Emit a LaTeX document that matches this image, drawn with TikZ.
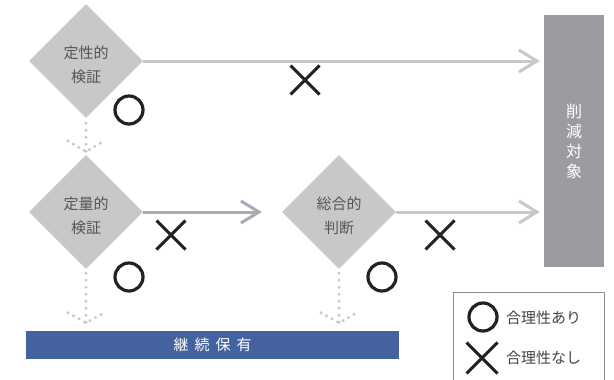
\documentclass[tikz,border=0pt]{standalone}
\usepackage{fontspec}
\newfontfamily\cjk{Noto Sans CJK JP}
\usetikzlibrary{shapes.geometric,shapes.misc,arrows.meta,calc}
\definecolor{dia}{HTML}{C8C8C8}
\definecolor{diatext}{HTML}{555555}
\definecolor{lgray}{HTML}{C8C8CA}
\definecolor{mgray}{HTML}{A9A9B8}
\definecolor{boxgray}{HTML}{9B9CA0}
\definecolor{bar}{HTML}{4462A0}
\definecolor{mark}{HTML}{222222}
\definecolor{legline}{HTML}{8A8D95}
\begin{document}
\begin{tikzpicture}[x=1pt,y=-1pt,
  dianode/.style={shape=diamond, aspect=1, fill=dia, minimum width=114pt, minimum height=114pt, inner sep=0pt},
  diatxt/.style={align=center, font=\cjk\fontsize{15pt}{24pt}\selectfont, text=diatext, inner sep=0pt, yshift=-4pt},
  arrowline/.style={line width=3pt, -{Straight Barb[length=18pt,width=22pt]}},
  dotline/.style={draw=lgray, line width=3.4pt, line cap=round, dash pattern=on 0pt off 7pt},
  dotchev/.style={draw=lgray, line width=3.4pt, line cap=round, dash pattern=on 0pt off 6.3pt},
  okmark/.style={draw=mark, circle, line width=3.2pt, minimum size=28pt, inner sep=0pt},
  ngmark/.style={draw=mark, cross out, line width=3pt, minimum size=26pt, inner sep=0pt},
  legtext/.style={font=\cjk\fontsize{15pt}{18pt}\selectfont, text=mark!85, anchor=west, inner sep=0pt}
]
\useasboundingbox (0,0) rectangle (614,380);
\clip (0,0) rectangle (614,380);

% decision diamonds
\node[dianode, label={[diatxt]center:定性的\\検証}] (d1) at (86,61) {};
\node[dianode, label={[diatxt]center:定量的\\検証}] (d2) at (86,212) {};
\node[dianode, label={[diatxt]center:総合的\\判断}] (d3) at (339,212) {};

% target boxes
\node[fill=boxgray, minimum width=60pt, minimum height=252pt, inner sep=0pt, text=white,
  align=center, font=\cjk\fontsize{16pt}{20pt}\selectfont] (cut) at (574,141) {削\\減\\対\\象};
\node[fill=bar, minimum width=373pt, minimum height=28pt, inner sep=0pt, text=white,
  font=\cjk\fontsize{15pt}{18pt}\selectfont] (keep) at (212.5,345) {継\hspace{6pt}続\hspace{6pt}保\hspace{6pt}有};

% solid arrows
\draw[arrowline, draw=lgray, shorten >=4pt] (d1.east) -- (cut.west |- d1.east);
\draw[arrowline, draw=mgray, shorten >=20pt] (d2.east) -- (d3.west);
\draw[arrowline, draw=lgray, shorten >=4pt] (d3.east) -- (cut.west |- d3.east);

% dotted arrows
\coordinate (t1) at ($(d2.north)+(0,-3)$);
\draw[dotline] ($(d1.south)+(0,5)$) -- (t1);
\draw[dotchev] ($(t1)+(-18,-11)$) -- (t1) -- ($(t1)+(18,-11)$);
\coordinate (t2) at ($(keep.north -| d2.south)+(0,-8)$);
\draw[dotline] ($(d2.south)+(0,4)$) -- (t2);
\draw[dotchev] ($(t2)+(-18,-10)$) -- (t2) -- ($(t2)+(18,-10)$);
\coordinate (t3) at ($(keep.north -| d3.south)+(0,-8)$);
\draw[dotline] ($(d3.south)+(0,4)$) -- (t3);
\draw[dotchev] ($(t3)+(-18,-10)$) -- (t3) -- ($(t3)+(18,-10)$);

% marks
\node[okmark] (o1) at (129,110) {};
\node[ngmark] (x1) at (305,80) {};
\node[okmark] (o2) at (129,277) {};
\node[ngmark] (x2) at (171,235) {};
\node[okmark] (o3) at (382,277) {};
\node[ngmark] (x3) at (440,235) {};

% legend
\node[draw=legline, line width=1pt, minimum width=151pt, minimum height=110pt, inner sep=0pt] (legend) at (528.5,347) {};
\node[okmark] (lo) at (483,317) {};
\node[legtext] (lt1) at (506,318) {合理性あり};
\node[ngmark, minimum size=28pt] (lx) at (482,358) {};
\node[legtext] (lt2) at (506,358) {合理性なし};
\end{tikzpicture}
\end{document}
